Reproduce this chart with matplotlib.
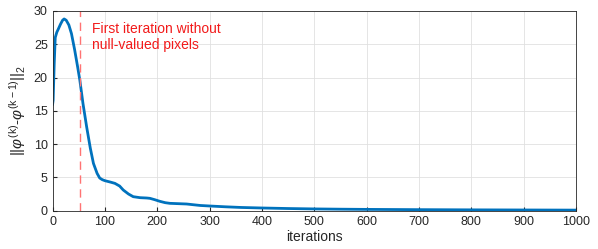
import matplotlib
matplotlib.use("Agg")
import matplotlib.pyplot as plt

plt.rcParams['font.family'] = ['Liberation Sans', 'DejaVu Sans']
plt.rcParams['mathtext.fontset'] = 'custom'
plt.rcParams['mathtext.rm'] = 'Liberation Sans'
plt.rcParams['mathtext.it'] = 'Liberation Sans:italic'

# values
iterations = [0, 1, 3, 5, 8, 11, 15, 19, 22, 26, 31, 36, 42, 48, 52, 58, 65, 72, 78,
              85, 90, 95, 100, 110, 119, 128, 135, 145, 154, 167, 180, 186, 195, 205,
              215, 224, 240, 256, 270, 282, 300, 330, 360, 400, 450, 500, 550, 600,
              700, 800, 900, 1000]
residual = [16.0, 16.6, 22.0, 26.0, 26.8, 27.3, 28.0, 28.6, 28.8, 28.6, 27.9, 26.6, 24.2, 21.5,
            19.6, 16.1, 12.6, 9.4, 7.1, 5.6, 4.9, 4.65, 4.5, 4.3, 4.1, 3.7, 3.1, 2.5, 2.1,
            1.95, 1.9, 1.85, 1.65, 1.4, 1.2, 1.1, 1.05, 1.0, 0.88, 0.78, 0.7, 0.58, 0.48,
            0.4, 0.32, 0.26, 0.22, 0.19, 0.15, 0.12, 0.1, 0.08]
first_full_iter = 52

fig = plt.figure(figsize=(5.98, 2.49), dpi=100)
ax = fig.add_axes([0.088, 0.154, 0.875, 0.802])

ax.plot(iterations, residual, color=(0, 0.447, 0.741), lw=2)
ax.axvline(first_full_iter, color=(1, 0.45, 0.45), lw=1, ls=(0, (6, 4)))
ax.text(75, 26.1, 'First iteration without\nnull-valued pixels', color=(0.95, 0.1, 0.1),
        fontsize=10, ha='left', va='center', linespacing=1.25)

ax.set_xlim(0, 1000)
ax.set_ylim(0, 30)
ax.set_xticks(range(0, 1001, 100))
ax.set_yticks(range(0, 31, 5))
ax.grid(True, color=(0.88, 0.88, 0.88), lw=0.6)
ax.set_axisbelow(True)
ax.tick_params(direction='in', length=3, labelsize=9, colors=(0.15, 0.15, 0.15))
for s in ax.spines.values():
    s.set_color((0.15, 0.15, 0.15))
    s.set_linewidth(0.6)

ax.set_xlabel('iterations', fontsize=10, color=(0.15, 0.15, 0.15), labelpad=2)
ax.set_ylabel(r'$||\varphi^{\mathrm{(k)}}$-$\varphi^{\mathrm{(k-1)}}||_2$',
              fontsize=11, color=(0.15, 0.15, 0.15), labelpad=4)

fig.savefig('out.png', dpi=100)
